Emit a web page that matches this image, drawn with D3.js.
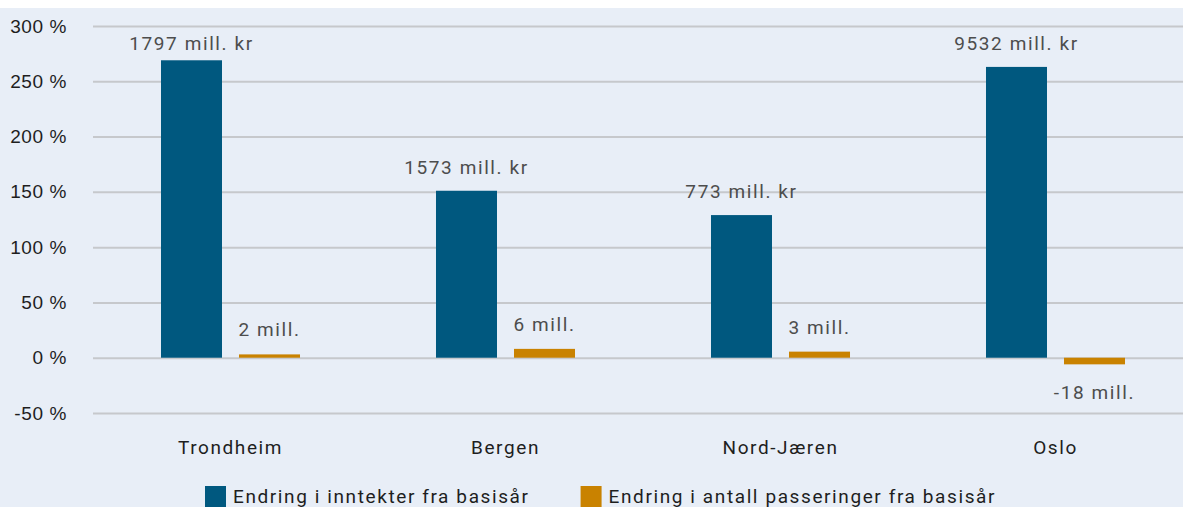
<!DOCTYPE html>
<html>
<head>
<meta charset="utf-8">
<script src="https://cdn.jsdelivr.net/npm/d3@7"></script>
<style>
  body { margin: 0; background: #fff; }
  svg { display: block; font-family: Roboto, sans-serif; }
</style>
</head>
<body>
<div id="chart"></div>
<script>
// chart data
const cities = ['Trondheim', 'Bergen', 'Nord-Jæren', 'Oslo'];
const seriesNames = ['Endring i inntekter fra basisår', 'Endring i antall passeringer fra basisår'];
const revenueChange = [269, 151, 129, 263];
const passingsChange = [3, 8, 5.5, -6];
const revenueLabels = ['1797 mill. kr', '1573 mill. kr', '773 mill. kr', '9532 mill. kr'];
const passingsLabels = ['2 mill.', '6 mill.', '3 mill.', '-18 mill.'];
const yTicks = [-50, 0, 50, 100, 150, 200, 250, 300];

const colors = ['#00587f', '#c98200'];

const width = 1183;
const height = 507;
const margin = { top: 26, right: -10, bottom: 94, left: 93 };

const svg = d3.select('#chart')
  .append('svg')
  .attr('width', width)
  .attr('height', height);

// background panel
svg.append('rect')
  .attr('x', 0)
  .attr('y', 8)
  .attr('width', width)
  .attr('height', height - 8)
  .attr('fill', '#e8eef7');

const y = d3.scaleLinear()
  .domain([-50, 300])
  .range([height - margin.bottom, margin.top]);

const x0 = d3.scaleBand()
  .domain(cities)
  .range([margin.left, width - margin.right])
  .paddingInner(0.4945)
  .paddingOuter(0.4945 / 2);

const x1 = d3.scaleBand()
  .domain([0, 1])
  .range([0, x0.bandwidth()])
  .paddingInner(0.218);

// gridlines + y tick labels
const yAxis = d3.axisLeft(y)
  .tickValues(yTicks)
  .tickSize(-(width - margin.right - margin.left))
  .tickPadding(26)
  .tickFormat(d => `${d} %`);

const gy = svg.append('g')
  .attr('transform', `translate(${margin.left},0)`)
  .call(yAxis);

gy.select('.domain').remove();
gy.selectAll('.tick line')
  .attr('stroke', '#c6c8cc')
  .attr('stroke-width', 2);
gy.selectAll('.tick text')
  .attr('fill', '#1e1e1e')
  .style('font-size', '19px')
  .style('letter-spacing', '0.6px');

// category labels
svg.append('g')
  .selectAll('text')
  .data(cities)
  .enter()
  .append('text')
  .attr('x', d => x0(d) + x0.bandwidth() / 2)
  .attr('y', 454)
  .attr('text-anchor', 'middle')
  .attr('fill', '#1e1e1e')
  .style('font-size', '19px')
  .style('letter-spacing', '1.6px')
  .text(d => d);

const groups = svg.append('g')
  .selectAll('g')
  .data(cities)
  .enter()
  .append('g')
  .attr('transform', d => `translate(${x0(d)},0)`);

// revenue bars
groups.append('rect')
  .attr('x', x1(0))
  .attr('width', x1.bandwidth())
  .attr('y', (d, i) => y(revenueChange[i]))
  .attr('height', (d, i) => y(0) - y(revenueChange[i]))
  .attr('fill', colors[0]);

// passings bars
groups.append('rect')
  .attr('x', x1(1))
  .attr('width', x1.bandwidth())
  .attr('y', (d, i) => y(Math.max(0, passingsChange[i])))
  .attr('height', (d, i) => Math.abs(y(0) - y(passingsChange[i])))
  .attr('fill', colors[1]);

// value labels
groups.append('text')
  .attr('x', x1(0) + x1.bandwidth() / 2)
  .attr('y', (d, i) => Math.max(y(revenueChange[i]) - 17, margin.top + 24))
  .attr('text-anchor', 'middle')
  .attr('fill', '#4d4d4d')
  .style('font-size', '19px')
  .style('letter-spacing', '1.6px')
  .text((d, i) => revenueLabels[i]);

groups.append('text')
  .attr('x', x1(1) + x1.bandwidth() / 2)
  .attr('y', (d, i) => (passingsChange[i] >= 0
    ? y(passingsChange[i]) - 18
    : y(passingsChange[i]) + 35))
  .attr('text-anchor', 'middle')
  .attr('fill', '#4d4d4d')
  .style('font-size', '19px')
  .style('letter-spacing', '1.6px')
  .text((d, i) => passingsLabels[i]);

// legend
const legend = svg.append('g');
let lx = 205;
seriesNames.forEach((name, i) => {
  legend.append('rect')
    .attr('x', lx)
    .attr('y', 486)
    .attr('width', 21)
    .attr('height', 21)
    .attr('fill', colors[i]);
  const t = legend.append('text')
    .attr('x', lx + 28)
    .attr('y', 503)
    .attr('fill', '#1e1e1e')
    .style('font-size', '19px')
    .style('letter-spacing', '1.6px')
    .text(name);
  lx += 28 + t.node().getComputedTextLength() + 51;
});
</script>
</body>
</html>
